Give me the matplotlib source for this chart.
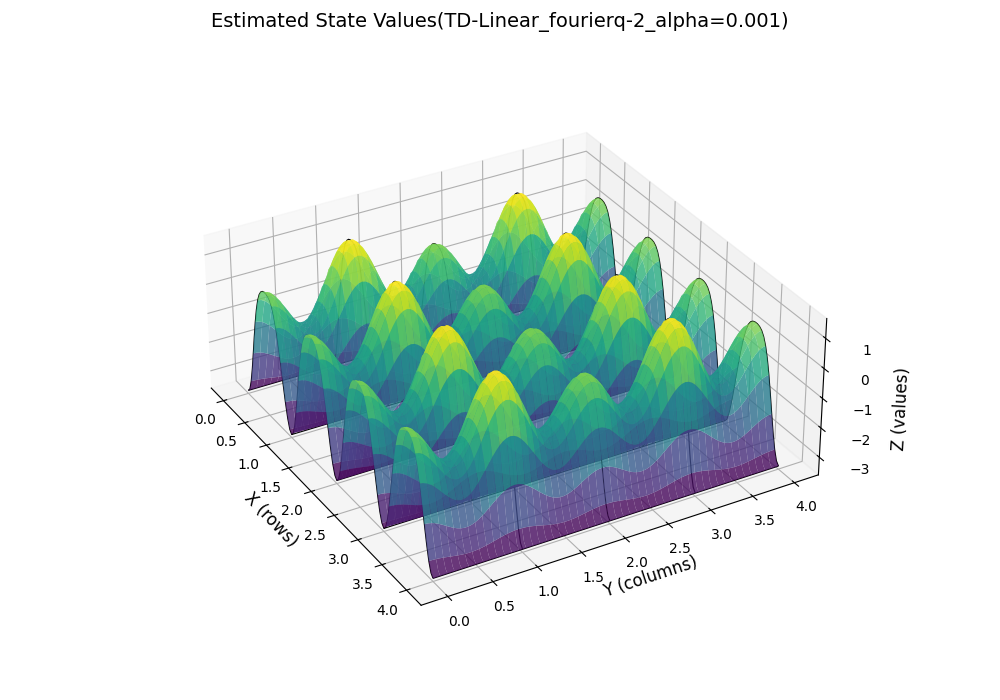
import numpy as np
import matplotlib.pyplot as plt

# value model:
# V(x, y) = sum_ij weights[i][j] * row_basis_i(x) * col_basis_j(y)
# row basis: 1, cos(2 pi x), cos(4 pi x)
# col basis: 1, cos(pi y), cos(2 pi y)
row_freqs = [0, 2, 4]
col_freqs = [0, 1, 2]
weights = [[-1.324, -0.285, 0.569],
           [-1.814, 0.238, -0.474],
           [-0.362, 0.047, -0.095]]

xs = np.linspace(0, 4, 101)
ys = np.linspace(0, 4, 101)
X, Y = np.meshgrid(xs, ys, indexing='ij')

Z = np.zeros_like(X)
for i, fx in enumerate(row_freqs):
    for j, fy in enumerate(col_freqs):
        Z += weights[i][j] * np.cos(np.pi * fx * X) * np.cos(np.pi * fy * Y)

fig = plt.figure(figsize=(10, 7))
ax = fig.add_axes([0.0, 0.012, 1.0, 0.938], projection='3d')
ax.computed_zorder = False
# grid lines at the integer states sit under the semi-transparent surface
ax.plot_wireframe(X, Y, Z, rstride=25, cstride=25, color='k', linewidth=0.8, zorder=1)
ax.plot_surface(X, Y, Z, cmap='viridis', alpha=0.8, rstride=2, cstride=2, zorder=2)
ax.view_init(elev=31, azim=-30)
ax.set_box_aspect((4, 4, 1.6), zoom=0.978)
ax.tick_params(axis='z', pad=7.5)

ax.set_xlabel('X (rows)', fontsize=12)
ax.set_ylabel('Y (columns)', fontsize=12)
ax.set_zlabel('Z (values)', fontsize=12, labelpad=9)
ax.set_title('Estimated State Values(TD-Linear_fourierq-2_alpha=0.001)', fontsize=14)

fig.savefig('out.png', dpi=100)
